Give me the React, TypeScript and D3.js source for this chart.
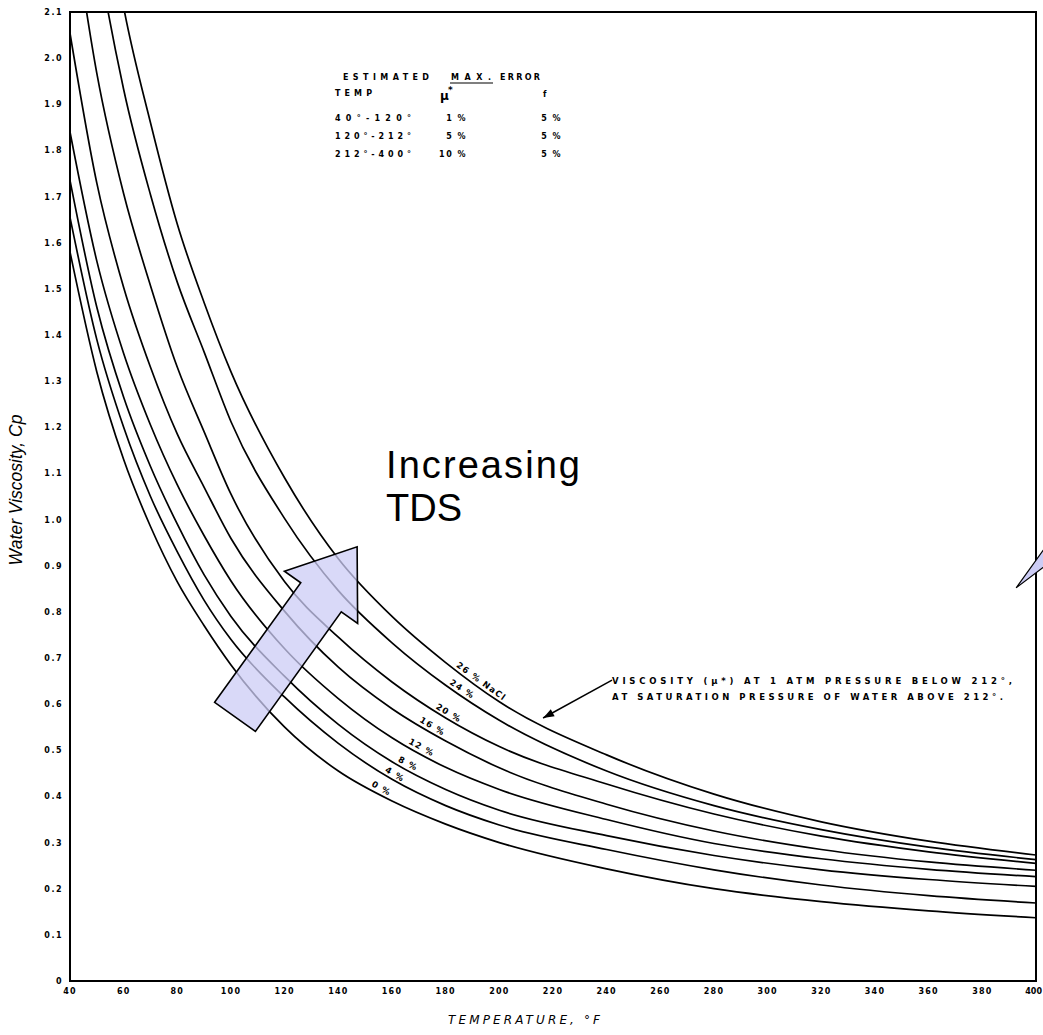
import React from "react";
import * as d3 from "d3";

// temperature grid (deg F) the curves were read at
const temps = [40, 50, 60, 70, 80, 90, 100, 120, 140, 160, 180, 200, 240, 280, 320, 360, 400];

// water viscosity (cp) per NaCl concentration
const nacl0 = [1.58, 1.32, 1.13, 0.985, 0.865, 0.77, 0.685, 0.55, 0.455, 0.39, 0.34, 0.3, 0.243, 0.2, 0.172, 0.152, 0.137];
const nacl4 = [1.655, 1.39, 1.2, 1.05, 0.93, 0.825, 0.74, 0.615, 0.515, 0.437, 0.38, 0.338, 0.285, 0.241, 0.208, 0.185, 0.169];
const nacl8 = [1.735, 1.46, 1.265, 1.115, 0.99, 0.88, 0.79, 0.66, 0.556, 0.475, 0.415, 0.37, 0.315, 0.272, 0.241, 0.22, 0.205];
const nacl12 = [1.84, 1.56, 1.36, 1.205, 1.075, 0.965, 0.867, 0.72, 0.612, 0.527, 0.463, 0.415, 0.35, 0.298, 0.265, 0.242, 0.226];
const nacl16 = [2.054, 1.729, 1.503, 1.33, 1.185, 1.07, 0.959, 0.801, 0.68, 0.59, 0.52, 0.462, 0.383, 0.325, 0.285, 0.258, 0.24];
const nacl20 = [2.34, 1.967, 1.706, 1.507, 1.33, 1.19, 1.055, 0.865, 0.745, 0.648, 0.57, 0.508, 0.427, 0.362, 0.314, 0.28, 0.255];
const nacl24 = [2.69, 2.244, 1.932, 1.704, 1.514, 1.363, 1.212, 1.002, 0.846, 0.733, 0.641, 0.565, 0.455, 0.38, 0.328, 0.29, 0.263];
const nacl26 = [2.95, 2.47, 2.11, 1.86, 1.64, 1.47, 1.32, 1.09, 0.915, 0.79, 0.69, 0.605, 0.49, 0.405, 0.345, 0.303, 0.273];

const curveLabels = ["0 %", "4 %", "8 %", "12 %", "16 %", "20 %", "24 %", "26 % NaCl"];
// temperature where each curve label sits
const labelTemps = [155, 160, 165, 170, 174, 180, 185, 192];

const xTicks = [40, 60, 80, 100, 120, 140, 160, 180, 200, 220, 240, 260, 280, 300, 320, 340, 360, 380, 400];
const yTicks = [0, 0.1, 0.2, 0.3, 0.4, 0.5, 0.6, 0.7, 0.8, 0.9, 1.0, 1.1, 1.2, 1.3, 1.4, 1.5, 1.6, 1.7, 1.8, 1.9, 2.0, 2.1];

// "Increasing TDS" block arrow, in (temp, cp)
const tdsArrow: [number, number][] = [
  [93.9, 0.604], [126.0, 0.863], [119.9, 0.888], [147.0, 0.941],
  [147.2, 0.775], [141.1, 0.8], [109.1, 0.541],
];
// callout sliver at right edge
const sideCallout: [number, number][] = [[392.6, 0.852], [403.5, 0.94], [403.5, 0.9]];
// pointer from the note to the 26% curve
const notePointer: [number, number][] = [[242.0, 0.652], [216.3, 0.57]];

const errorRows = [
  ["40°-120°", "1 %", "5 %"],
  ["120°-212°", "5 %", "5 %"],
  ["212°-400°", "10 %", "5 %"],
];

const W = 1043;
const H = 1035;
const box = { left: 70, right: 1036, top: 12, bottom: 981 };
const tickFont = "'DejaVu Sans', sans-serif";

export default function App() {
  const x = d3.scaleLinear().domain([40, 400]).range([box.left, box.right]);
  const y = d3.scaleLinear().domain([0, 2.1]).range([box.bottom, box.top]);
  const series = [nacl0, nacl4, nacl8, nacl12, nacl16, nacl20, nacl24, nacl26];

  const line = d3
    .line<number>()
    .x((_, i) => x(temps[i]))
    .y((d) => y(d))
    .curve(d3.curveMonotoneX);

  const valueAt = (vals: number[], t: number) => {
    const i = Math.max(1, d3.bisectLeft(temps, t));
    const t0 = temps[i - 1], t1 = temps[i];
    return vals[i - 1] + ((vals[i] - vals[i - 1]) * (t - t0)) / (t1 - t0);
  };

  const toPts = (pts: [number, number][]) => pts.map(([t, v]) => `${x(t)},${y(v)}`).join(" ");

  const [p0, p1] = notePointer;
  const px0 = x(p0[0]), py0 = y(p0[1]), px1 = x(p1[0]), py1 = y(p1[1]);
  const ang = Math.atan2(py1 - py0, px1 - px0);
  const hl = 11, hw = 4;
  const head = [
    [px1, py1],
    [px1 - hl * Math.cos(ang) + hw * Math.sin(ang), py1 - hl * Math.sin(ang) - hw * Math.cos(ang)],
    [px1 - hl * Math.cos(ang) - hw * Math.sin(ang), py1 - hl * Math.sin(ang) + hw * Math.cos(ang)],
  ]
    .map((p) => p.join(","))
    .join(" ");

  return (
    <svg
      width={W}
      height={H}
      style={{ position: "absolute", left: 0, top: 0, background: "#fff" }}
    >
      <defs>
        <clipPath id="plot">
          <rect x={box.left} y={box.top} width={box.right - box.left} height={box.bottom - box.top} />
        </clipPath>
      </defs>

      {/* curves */}
      <g clipPath="url(#plot)">
        {series.map((s, i) => (
          <path key={i} d={line(s) || ""} fill="none" stroke="#000" strokeWidth={1.7} />
        ))}
      </g>

      {/* curve labels */}
      {series.map((s, i) => {
        const t = labelTemps[i];
        const cx = x(t);
        const cy = y(valueAt(s, t));
        const a = (Math.atan2(y(valueAt(s, t + 3)) - y(valueAt(s, t - 3)), x(t + 3) - x(t - 3)) * 180) / Math.PI;
        return (
          <text
            key={i}
            transform={`translate(${cx},${cy}) rotate(${a}) translate(0,-3)`}
            textAnchor="middle"
            fontFamily={tickFont}
            fontWeight="bold"
            fontSize={8.5}
            letterSpacing={1.2}
            fill="#000"
          >
            {curveLabels[i]}
          </text>
        );
      })}

      {/* frame */}
      <rect
        x={box.left}
        y={box.top}
        width={box.right - box.left}
        height={box.bottom - box.top}
        fill="none"
        stroke="#000"
        strokeWidth={2}
      />

      {/* y tick labels */}
      {yTicks.map((v) => (
        <text
          key={v}
          x={box.left - 7}
          y={y(v) + 3}
          textAnchor="end"
          fontFamily={tickFont}
          fontWeight="bold"
          fontSize={8}
          letterSpacing={1.5}
          fill="#000"
        >
          {v === 0 ? "0" : d3.format(".1f")(v)}
        </text>
      ))}

      {/* x tick labels */}
      {xTicks.map((t, i) => {
        const last = i === xTicks.length - 1;
        return (
          <text
            key={t}
            x={last ? W - 1 : x(t)}
            y={box.bottom + 13}
            textAnchor={last ? "end" : "middle"}
            fontFamily={tickFont}
            fontWeight="bold"
            fontSize={8}
            letterSpacing={last ? 0 : 1.2}
            fill="#000"
          >
            {t}
          </text>
        );
      })}

      {/* axis titles */}
      <text
        x={448}
        y={1024}
        fontFamily={tickFont}
        fontStyle="italic"
        fontSize={12}
        textLength={152}
        lengthAdjust="spacing"
        fill="#000"
      >
        TEMPERATURE, °F
      </text>
      <text
        transform={`translate(22,490) rotate(-90)`}
        textAnchor="middle"
        fontFamily="'Liberation Sans', Arial, sans-serif"
        fontStyle="italic"
        fontSize={17.5}
        fill="#000"
      >
        Water Viscosity, Cp
      </text>

      {/* error table */}
      <g fontFamily={tickFont} fontWeight="bold" fontSize={8} fill="#000">
        <text x={343} y={80} textLength={86} lengthAdjust="spacing">ESTIMATED</text>
        <text x={451} y={80} textLength={40} lengthAdjust="spacing">MAX.</text>
        <line x1={450} x2={493} y1={83} y2={83} stroke="#000" strokeWidth={1.2} />
        <text x={500} y={80} textLength={40} lengthAdjust="spacing">ERROR</text>
        <text x={335} y={96} textLength={37} lengthAdjust="spacing">TEMP</text>
        <text x={440} y={100} fontSize={12} fontWeight="bold">μ</text>
        <text x={448} y={93} fontSize={9}>*</text>
        <text x={543} y={97}>f</text>
        {errorRows.map((r, i) => (
          <g key={i}>
            <text x={335} y={121 + i * 18} textLength={76} lengthAdjust="spacing">{r[0]}</text>
            <text x={467} y={121 + i * 18} textAnchor="end" letterSpacing={1.5}>{r[1]}</text>
            <text x={562} y={121 + i * 18} textAnchor="end" letterSpacing={1.5}>{r[2]}</text>
          </g>
        ))}
      </g>

      {/* note with pointer */}
      <g fontFamily={tickFont} fontWeight="bold" fontSize={8.5} fill="#000">
        <text x={612} y={684} textLength={400} lengthAdjust="spacing">
          VISCOSITY (μ*) AT 1 ATM PRESSURE BELOW 212°,
        </text>
        <text x={612} y={700} textLength={391} lengthAdjust="spacing">
          AT SATURATION PRESSURE OF WATER ABOVE 212°.
        </text>
      </g>
      <line x1={px0} y1={py0} x2={px1} y2={py1} stroke="#000" strokeWidth={1.5} />
      <polygon points={head} fill="#000" />

      {/* increasing TDS arrow */}
      <polygon
        points={toPts(tdsArrow)}
        fill="#ccccf5"
        fillOpacity={0.75}
        stroke="#000"
        strokeWidth={1.6}
        strokeLinejoin="miter"
      />
      <g fontFamily="'Liberation Sans', Arial, sans-serif" fontSize={38} fill="#000">
        <text x={386} y={478} textLength={194} lengthAdjust="spacing">Increasing</text>
        <text x={386} y={521}>TDS</text>
      </g>

      {/* callout sliver at right edge */}
      <polygon points={toPts(sideCallout)} fill="#ccccf5" stroke="#000" strokeWidth={1.2} />
    </svg>
  );
}
